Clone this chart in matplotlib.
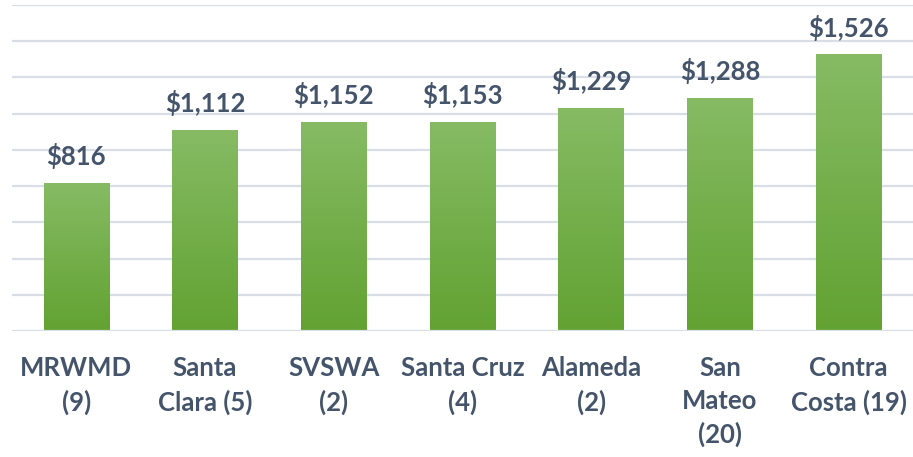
import numpy as np
import matplotlib.pyplot as plt
from matplotlib.colors import LinearSegmentedColormap

# данные
categories = ["MRWMD\n(9)", "Santa\nClara (5)", "SVSWA\n(2)", "Santa Cruz\n(4)",
              "Alameda\n(2)", "San\nMateo\n(20)", "Contra\nCosta (19)"]
values = [816, 1112, 1152, 1153, 1229, 1288, 1526]

text_color = "#44546A"
grid_color = "#D9DEE6"
green = LinearSegmentedColormap.from_list("g", ["#62A232", "#86BB64"])

W, H = 913, 457
fig = plt.figure(figsize=(W / 100, H / 100), dpi=100)
ax = fig.add_axes([12 / W, (H - 331.3) / H, (W - 12) / W, (331.3 - 4.7) / H])

for y in range(200, 1801, 200):
    ax.axhline(y, color=grid_color, lw=1.6, zorder=0)
ax.axhline(0, color=grid_color, lw=1.6, zorder=3)

grad = np.linspace(0, 1, 256).reshape(-1, 1)
bars = ax.bar(range(len(values)), values, width=0.51, color="none", zorder=2)
for b, v in zip(bars, values):
    x0 = b.get_x()
    im = ax.imshow(grad, cmap=green, aspect="auto", origin="lower",
                   extent=[x0, x0 + b.get_width(), 0, v], zorder=2)
    im.set_clip_path(b)
    ax.annotate("${:,}".format(v), (b.get_x() + b.get_width() / 2, v),
                xytext=(0, 10), textcoords="offset points", ha="center", va="bottom",
                fontsize=18.5, fontweight="bold", family="Lato", color=text_color)

ax.set_xlim(-0.5, len(values) - 0.5)
ax.set_ylim(0, 1800)

for i, c in enumerate(categories):
    ax.annotate(c, (i, 0), xytext=(0, -18), textcoords="offset points",
                ha="center", va="top", fontsize=18.5, fontweight="bold",
                family="Lato", color=text_color, linespacing=1.42)

ax.set_xticks([])
ax.set_yticks([])
for s in ax.spines.values():
    s.set_visible(False)

fig.savefig("out.png", dpi=100)
